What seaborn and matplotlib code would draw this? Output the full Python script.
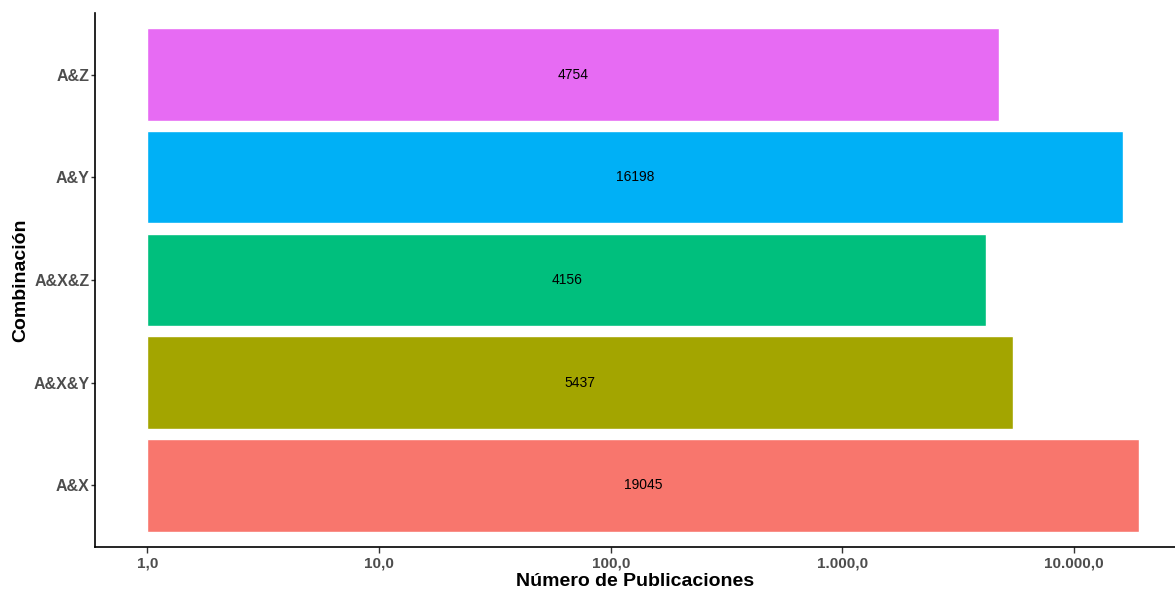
import numpy as np
import pandas as pd
import matplotlib
matplotlib.use("Agg")
import matplotlib.pyplot as plt
from matplotlib.ticker import FixedLocator, FuncFormatter
import seaborn as sns

# Data
combinaciones = ["A&Z", "A&Y", "A&X&Z", "A&X&Y", "A&X"]
publicaciones = [4754, 16198, 4156, 5437, 19045]
colores = ["#E76BF3", "#00B0F6", "#00BF7D", "#A3A500", "#F8766D"]

df = pd.DataFrame({"combinacion": combinaciones, "publicaciones": publicaciones})
# log10 axis, bars start at 1 (= 10^0)
df["log_pub"] = np.log10(df["publicaciones"])

sns.set_theme(style="white")
plt.rcParams["font.family"] = ["Liberation Sans", "DejaVu Sans"]

fig = plt.figure(figsize=(11.75, 5.9), dpi=100)
ax = fig.add_axes([0.081, 0.073, 0.919, 0.905])

sns.barplot(data=df, x="log_pub", y="combinacion", hue="combinacion",
            order=combinaciones, hue_order=combinaciones, palette=colores,
            orient="h", width=0.9, saturation=1, legend=False, ax=ax)

for i, (lv, v) in enumerate(zip(df["log_pub"], df["publicaciones"])):
    ax.text(lv / 2, i, str(v), ha="center", va="center", fontsize=10, color="black")


def fmt(x, pos):
    s = f"{10 ** x:,.1f}"
    return s.replace(",", "X").replace(".", ",").replace("X", ".")


ax.xaxis.set_major_locator(FixedLocator([0, 1, 2, 3, 4]))
ax.xaxis.set_major_formatter(FuncFormatter(fmt))
ax.set_xlim(-0.225, 4.435)
ax.set_ylim(4.6, -0.6)

ax.set_xlabel("Número de Publicaciones", fontsize=14, fontweight="bold", color="black", labelpad=2)
ax.set_ylabel("Combinación", fontsize=14, fontweight="bold", color="black")
ax.yaxis.set_label_coords(-0.061, 0.5)

ax.tick_params(axis="x", which="major", length=4, width=1, color="#333333",
               labelsize=11, labelcolor="#4D4D4D", bottom=True, pad=3)
ax.tick_params(axis="y", which="major", length=3, width=1, color="#333333",
               labelsize=11.5, labelcolor="#4D4D4D", left=True, pad=1)
for lab in ax.get_xticklabels() + ax.get_yticklabels():
    lab.set_fontweight("bold")

sns.despine(ax=ax)
for side in ["left", "bottom"]:
    ax.spines[side].set_color("black")
    ax.spines[side].set_linewidth(1.2)

fig.savefig("out.png", dpi=100)
